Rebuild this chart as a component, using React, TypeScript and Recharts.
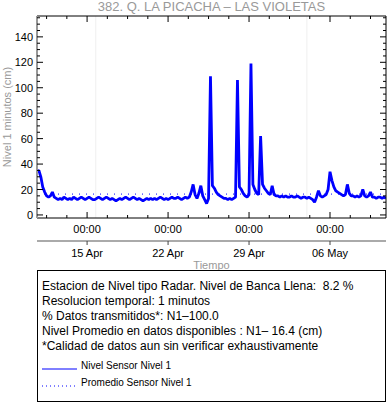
import React from "react";
import { LineChart, Line, XAxis, YAxis, ReferenceLine } from "recharts";

// dias relativos a 15 Apr 00:00, una lectura cada 4 horas
const inicioDia = -4.3333;
const pasoDia = 1 / 6;

const nivelSensor: number[] = [
  34, 35, 30, 22, 18, 15, 14, 15, 18, 14, 13, 12,
  13, 12, 14, 13, 12, 13, 12, 14, 13, 12, 13, 14,
  13, 12, 13, 14, 13, 12, 12, 13, 14, 13, 12, 13,
  14, 13, 12, 13, 12, 11, 12, 13, 12, 13, 14, 13,
  12, 13, 14, 13, 12, 13, 12, 11, 12, 13, 12, 13,
  12, 13, 12, 13, 14, 13, 12, 13, 12, 13, 14, 13,
  13, 14, 13, 12, 13, 14, 13, 14, 18, 24, 16, 13,
  17, 23, 15, 12, 9, 13, 109, 23, 21, 18, 16, 15,
  14, 13, 13, 12, 13, 12, 13, 14, 106, 22, 20, 17,
  15, 14, 16, 119, 24, 20, 17, 16, 62, 24, 21, 19,
  17, 16, 23, 16, 15, 15, 14, 15, 14, 15, 14, 14,
  15, 14, 14, 15, 14, 13, 14, 14, 13, 14, 13, 12,
  10, 14, 19, 15, 14, 15, 16, 20, 34, 27, 22, 19,
  18, 17, 16, 15, 16, 24, 17, 15, 15, 14, 15, 14,
  15, 20, 15, 14, 15, 18, 14, 14, 13, 14, 14, 13,
  14, 13,
];

const promedio = 16.4;
const semanas = [0, 7, 14, 21];
const horas = ["00:00", "00:00", "00:00", "00:00"];
const fechas = ["15 Apr", "22 Apr", "29 Apr", "06 May"];
const xTicks = [-3.5, -1.75, 0, 1.75, 3.5, 5.25, 7, 8.75, 10.5, 12.25, 14, 15.75, 17.5, 19.25, 21, 22.75, 24.5];
const yTicks = [0, 5, 10, 15, 20, 25, 30, 35, 40, 45, 50, 55, 60, 65, 70, 75, 80, 85, 90, 95, 100, 105, 110, 115, 120, 125, 130, 135, 140, 145, 150, 155];
const yLabels = [0, 20, 40, 60, 80, 100, 120, 140];
const gridDias = [0.75, 19];

const infoLines = [
  "Estacion de Nivel tipo Radar. Nivel de Banca Llena:  8.2 %",
  "Resolucion temporal: 1 minutos",
  "% Datos transmitidos*: N1–100.0",
  "Nivel Promedio en datos disponibles : N1– 16.4 (cm)",
  "*Calidad de datos aun sin verificar exhaustivamente",
];

const data = nivelSensor.map((v, i) => ({ t: inicioDia + i * pasoDia, nivel: v }));

const font = '"Liberation Sans", Arial, Helvetica, sans-serif';
const azul = "#0000ff";
const xDomain = [-4.33, 25.84];
const yDomain = [-2.4, 156.4];

const BottomTick = ({ x, y, payload }: any) => {
  const k = semanas.indexOf(payload.value);
  return (
    <g>
      <path d={`M${x},${y}V${y - (k >= 0 ? 6 : 3)}`} stroke="#000" strokeWidth={1} fill="none" />
      {k >= 0 && (
        <text x={x} y={y + 15} textAnchor="middle" fontSize={11} fill="#000" fontFamily={font}>
          {horas[k]}
        </text>
      )}
    </g>
  );
};

const TopTick = ({ x, y, payload }: any) => {
  const major = semanas.includes(payload.value);
  return (
    <g>
      <path d={`M${x},${y}V${y + (major ? 6 : 3)}`} stroke="#000" strokeWidth={1} fill="none" />
    </g>
  );
};

const DateTick = ({ x, y, payload }: any) => {
  const k = semanas.indexOf(payload.value);
  return (
    <g>
      <path d={`M${x},${y}V${y + 4}`} stroke="#444" strokeWidth={1} fill="none" />
      <text x={x} y={y + 16} textAnchor="middle" fontSize={11} fill="#000" fontFamily={font}>
        {fechas[k]}
      </text>
    </g>
  );
};

const LeftTick = ({ x, y, payload }: any) => {
  const major = yLabels.includes(payload.value);
  return (
    <g>
      <path d={`M${x},${y}H${x + (major ? 6 : 3)}`} stroke="#000" strokeWidth={1} fill="none" />
      {major && (
        <text x={x - 4} y={y + 4} textAnchor="end" fontSize={11} fill="#000" fontFamily={font}>
          {payload.value}
        </text>
      )}
    </g>
  );
};

const RightTick = ({ x, y, payload }: any) => {
  const major = yLabels.includes(payload.value);
  return (
    <g>
      <path d={`M${x},${y}H${x - (major ? 6 : 3)}`} stroke="#000" strokeWidth={1} fill="none" />
    </g>
  );
};

export default function App() {
  return (
    <div
      style={{
        position: "absolute",
        left: 0,
        top: 0,
        width: 388,
        height: 404,
        background: "#fff",
        fontFamily: font,
      }}
    >
      <div
        style={{
          position: "absolute",
          left: 37,
          top: -1,
          width: 349,
          textAlign: "center",
          fontSize: 13,
          lineHeight: "15px",
          color: "#999",
          whiteSpace: "nowrap",
        }}
      >
        382. Q. LA PICACHA – LAS VIOLETAS
      </div>
      <div
        style={{
          position: "absolute",
          left: 7,
          top: 117,
          transform: "translate(-50%, -50%) rotate(-90deg)",
          fontSize: 11,
          color: "#999",
          whiteSpace: "nowrap",
        }}
      >
        Nivel 1 minutos (cm)
      </div>
      <div style={{ position: "absolute", left: 0, top: 0 }}>
        <LineChart width={388} height={270} data={data} margin={{ top: 15, right: 1, left: 0, bottom: 0 }}>
          <XAxis
            xAxisId="a1"
            dataKey="t"
            type="number"
            domain={xDomain}
            ticks={xTicks}
            interval={0}
            tick={BottomTick}
            tickLine={false}
            tickSize={0}
            tickMargin={0}
            axisLine={{ stroke: "#000" }}
            height={23}
            allowDataOverflow
          />
          <XAxis
            xAxisId="b2"
            dataKey="t"
            type="number"
            domain={xDomain}
            ticks={semanas}
            interval={0}
            tick={DateTick}
            tickLine={false}
            tickSize={0}
            tickMargin={0}
            axisLine={{ stroke: "#aaa", strokeWidth: 2 }}
            height={29}
            allowDataOverflow
          />
          <XAxis
            xAxisId="top"
            orientation="top"
            dataKey="t"
            type="number"
            domain={xDomain}
            ticks={xTicks}
            interval={0}
            tick={TopTick}
            tickLine={false}
            tickSize={0}
            tickMargin={0}
            axisLine={{ stroke: "#000" }}
            height={1}
            allowDataOverflow
          />
          <YAxis
            yAxisId="left"
            type="number"
            domain={yDomain}
            ticks={yTicks}
            interval={0}
            tick={LeftTick}
            tickLine={false}
            tickSize={0}
            tickMargin={0}
            axisLine={{ stroke: "#999", strokeWidth: 2 }}
            width={37}
            allowDataOverflow
          />
          <YAxis
            yAxisId="right"
            orientation="right"
            type="number"
            domain={yDomain}
            ticks={yTicks}
            interval={0}
            tick={RightTick}
            tickLine={false}
            tickSize={0}
            tickMargin={0}
            axisLine={{ stroke: "#000" }}
            width={1}
            allowDataOverflow
          />
          {gridDias.map((d) => (
            <ReferenceLine key={d} xAxisId="a1" yAxisId="left" x={d} stroke="#efefef" />
          ))}
          <ReferenceLine
            xAxisId="a1"
            yAxisId="left"
            y={promedio}
            stroke={azul}
            strokeDasharray="1 6"
          />
          <Line
            xAxisId="a1"
            yAxisId="left"
            type="linear"
            dataKey="nivel"
            stroke={azul}
            strokeWidth={2.8}
            strokeLinejoin="bevel"
            dot={false}
            isAnimationActive={false}
          />
        </LineChart>
      </div>
      <div
        style={{
          position: "absolute",
          left: 37,
          top: 259,
          width: 349,
          textAlign: "center",
          fontSize: 11,
          lineHeight: "12px",
          color: "#999",
        }}
      >
        Tiempo
      </div>
      <div
        style={{
          position: "absolute",
          left: 37,
          top: 270,
          width: 349,
          height: 132,
          boxSizing: "border-box",
          border: "1px solid #000",
          padding: "8px 0 0 4px",
          fontSize: 12,
          lineHeight: "15px",
          color: "#000",
        }}
      >
        {infoLines.map((l) => (
          <div key={l} style={{ whiteSpace: "pre" }}>
            {l}
          </div>
        ))}
        <div style={{ marginTop: 3, fontSize: 10, lineHeight: "17px", display: "flex", alignItems: "center" }}>
          <svg width={36} height={17} style={{ marginRight: 3 }}>
            <line x1={0} x2={35} y1={12} y2={12} stroke={azul} strokeWidth={1} />
          </svg>
          Nivel Sensor Nivel 1
        </div>
        <div style={{ fontSize: 10, lineHeight: "17px", display: "flex", alignItems: "center" }}>
          <svg width={36} height={17} style={{ marginRight: 3 }}>
            <line x1={0} x2={35} y1={12} y2={12} stroke={azul} strokeWidth={1} strokeDasharray="1 3" />
          </svg>
          Promedio Sensor Nivel 1
        </div>
      </div>
    </div>
  );
}
